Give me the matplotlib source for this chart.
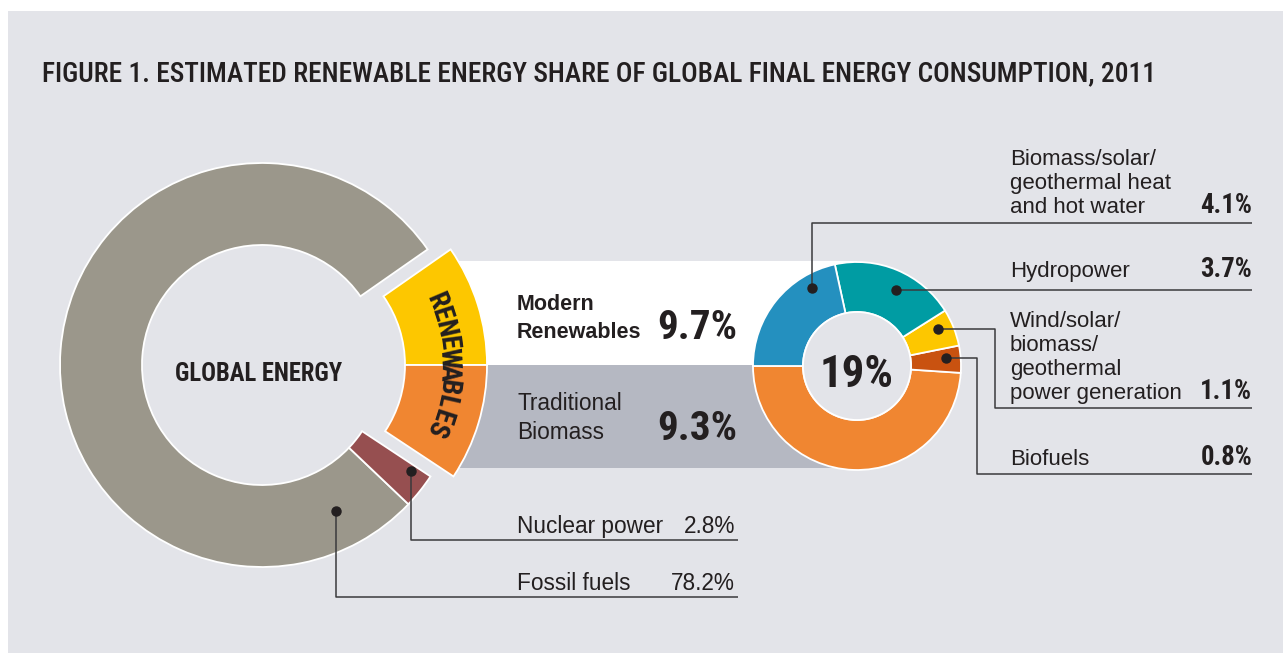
import numpy as np
import matplotlib
matplotlib.use("Agg")
import matplotlib.pyplot as plt
from matplotlib import font_manager
from matplotlib.patches import Rectangle, Circle

# data
global_labels = ["Modern Renewables", "Fossil fuels", "Nuclear power", "Traditional Biomass"]
global_shares = [9.7, 78.2, 2.8, 9.3]
global_colors = ["#fdc700", "#9b978b", "#964f50", "#f08631"]

renew_labels = ["Traditional Biomass", "Biofuels",
                "Wind/solar/\nbiomass/\ngeothermal\npower generation",
                "Hydropower", "Biomass/solar/\ngeothermal heat\nand hot water"]
renew_shares = [9.3, 0.8, 1.1, 3.7, 4.1]
renew_colors = ["#f08631", "#c95210", "#fdc700", "#009ca3", "#2490bf"]

title = "FIGURE 1. ESTIMATED RENEWABLE ENERGY SHARE OF GLOBAL FINAL ENERGY CONSUMPTION, 2011"

W, H = 1283, 653
BG = "#e3e4e9"
INK = "#231f20"

# pick a condensed face if there is one
names = set(f.name for f in font_manager.fontManager.ttflist)
cond = "Liberation Sans"
for n in ["Roboto Condensed", "Liberation Sans Narrow", "DejaVu Sans Condensed", "Open Sans Condensed"]:
    if n in names:
        cond = n
        break
COND = [cond, "DejaVu Sans"]
BODY = ["Liberation Sans", "DejaVu Sans"]

fig = plt.figure(figsize=(W / 100, H / 100), dpi=100, facecolor="white")
ax = fig.add_axes([0, 0, 1, 1])

def py(y):
    return H - y

ax.add_patch(Rectangle((8, 0), W - 8, H - 11, facecolor=BG, edgecolor="none", zorder=0))

# bands behind the renewables
ax.add_patch(Rectangle((440, py(365)), 417, 104, facecolor="white", edgecolor="none", zorder=1))
ax.add_patch(Rectangle((440, py(468)), 417, 103, facecolor="#b5b8c2", edgecolor="none", zorder=1))

# left donut
c1 = (262, py(365))
w1, _ = ax.pie(global_shares, colors=global_colors, startangle=0, counterclock=True,
               center=c1, radius=202,
               wedgeprops=dict(width=82, edgecolor="white", linewidth=1.3))
for i in (0, 3):
    w1[i].set_center((c1[0] + 23, c1[1]))
for w in w1:
    w.set_zorder(2)

# right donut
c2 = (857, py(366))
w2, _ = ax.pie(renew_shares, colors=renew_colors, startangle=180, counterclock=True,
               center=c2, radius=104,
               wedgeprops=dict(width=50, edgecolor="white", linewidth=1.3))
for w in w2:
    w.set_zorder(3)
ax.add_patch(Circle(c2, 54, facecolor=BG, edgecolor="white", linewidth=1.3, zorder=3))

ax.set_aspect("auto")
ax.set_xlim(0, W)
ax.set_ylim(0, H)
ax.axis("off")

renderer = fig.canvas.get_renderer()

def fit(t, width):
    bb = t.get_window_extent(renderer)
    t.set_fontsize(t.get_fontsize() * width / bb.width)
    return t

# title
t = ax.text(42, py(81), title, family=COND, weight="medium", fontsize=22, color=INK,
            va="baseline", ha="left")
fit(t, 1113)

t = ax.text(259, py(381), "GLOBAL ENERGY", family=COND, weight="bold", fontsize=20,
            color=INK, ha="center", va="baseline", zorder=5)
fit(t, 168)

# curved RENEWABLES label
word = "RENEWABLES"
rc = (c1[0] + 23, c1[1])
angs = np.linspace(23, -23, len(word))
for ch, a in zip(word, angs):
    r = 164
    x = rc[0] + r * np.cos(np.radians(a))
    y = rc[1] + r * np.sin(np.radians(a))
    ax.text(x, y, ch, family=COND, weight="bold", fontsize=20, color=INK,
            rotation=a - 90, rotation_mode="anchor", ha="center", va="center", zorder=5)

# modern / traditional split
modern, traditional = global_shares[0], global_shares[3]
ax.text(517, py(310), "Modern", family=BODY, weight="bold", fontsize=15.5, color=INK, va="baseline")
ax.text(517, py(338), "Renewables", family=BODY, weight="bold", fontsize=15.5, color=INK, va="baseline")
ax.text(517, py(410), "Traditional", family=BODY, fontsize=16.3, color=INK, va="baseline")
ax.text(517, py(439), "Biomass", family=BODY, fontsize=16.3, color=INK, va="baseline")
t = ax.text(737, py(339), f"{modern}%", family=COND, weight="bold", fontsize=30, color=INK,
            ha="right", va="baseline", zorder=5)
fit(t, 80)
t2 = ax.text(737, py(440), f"{traditional}%", family=COND, weight="bold", fontsize=30, color=INK,
             ha="right", va="baseline", zorder=5)
t2.set_fontsize(t.get_fontsize())

t = ax.text(857, py(387), f"{modern + traditional:.0f}%", family=COND, weight="bold", fontsize=30,
            color=INK, ha="center", va="baseline", zorder=5)
fit(t, 74)

# leader lines
def leader(pts):
    xs = [p[0] for p in pts]
    ys = [py(p[1]) for p in pts]
    ax.plot(xs, ys, color="#3a3a3c", lw=1.1, zorder=6, solid_capstyle="butt")
    ax.plot(xs[0], ys[0], "o", color=INK, ms=6.5, zorder=7)

leader([(336, 511), (336, 597), (738, 597)])
leader([(411, 471), (411, 540), (738, 540)])
leader([(812, 288), (812, 223), (1252, 223)])
leader([(896, 290), (1252, 290)])
leader([(938, 329), (995, 329), (995, 408), (1252, 408)])
leader([(946, 358), (977, 358), (977, 474), (1252, 474)])

# left labels
ax.text(517, py(590), global_labels[1], family=BODY, fontsize=16.3, color=INK, va="baseline")
ax.text(735, py(590), f"{global_shares[1]}%", family=BODY, fontsize=16.3, color=INK,
        va="baseline", ha="right")
ax.text(517, py(533), global_labels[2], family=BODY, fontsize=16.3, color=INK, va="baseline")
ax.text(735, py(533), f"{global_shares[2]}%", family=BODY, fontsize=16.3, color=INK,
        va="baseline", ha="right")

# right labels: (index in renew lists, baseline of last line)
right_rows = [(4, 213), (3, 277), (2, 399), (1, 465)]
pct_size = None
for idx, base in right_rows:
    lines = renew_labels[idx].split("\n")
    for k, line in enumerate(lines):
        ax.text(1010, py(base - 24 * (len(lines) - 1 - k)), line, family=BODY, fontsize=16,
                color=INK, va="baseline")
    t = ax.text(1252, py(base), f"{renew_shares[idx]}%", family=COND, weight="bold", fontsize=20,
                color=INK, ha="right", va="baseline")
    if pct_size is None:
        fit(t, 52)
        pct_size = t.get_fontsize()
    else:
        t.set_fontsize(pct_size)

fig.savefig("out.png", dpi=100, facecolor="white")
